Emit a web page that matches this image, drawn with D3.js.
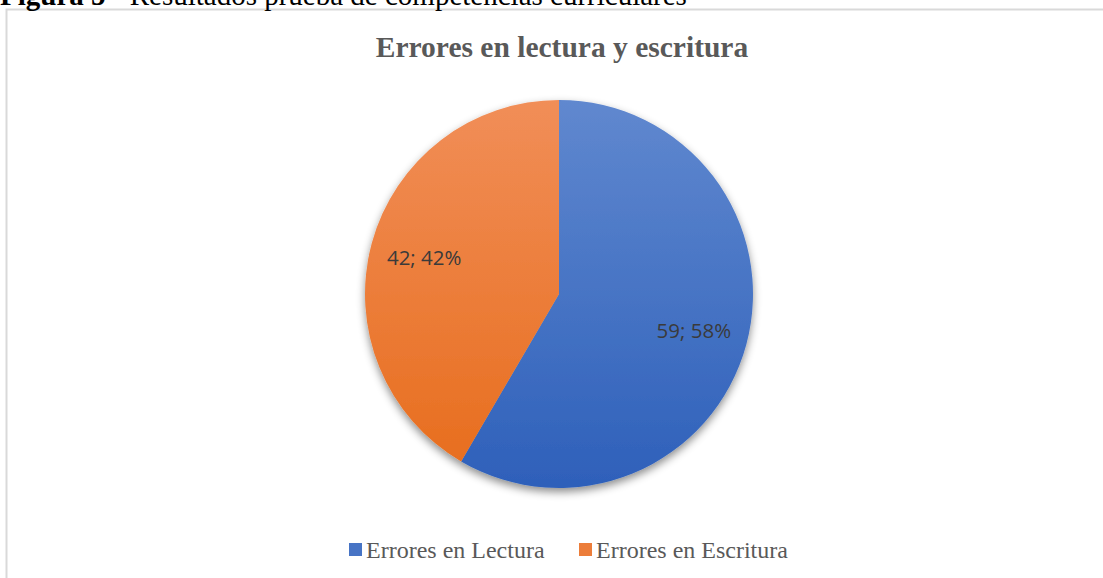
<!DOCTYPE html>
<html>
<head>
  <meta charset="utf-8">
  <style type="text/css">
    body { margin: 0; background: #fff; }
    svg { display: block; }
  </style>
  <script src="https://d3js.org/d3.v7.min.js"></script>
</head>
<body>
  <div id="chart"></div>
  <script type="text/javascript">
    // data
    var categories = ["Errores en Lectura", "Errores en Escritura"];
    var values = [59, 42];
    var colorsTop = ["#6088cf", "#f18e58"];
    var colorsBottom = ["#2e60ba", "#e76c1b"];

    var width = 1103, height = 578;
    var cx = 559, cy = 294, radius = 194;

    var svg = d3.select("#chart").append("svg")
        .attr("width", width)
        .attr("height", height);

    var defs = svg.append("defs");
    categories.forEach(function (c, i) {
      var g = defs.append("linearGradient")
          .attr("id", "grad" + i)
          .attr("gradientUnits", "userSpaceOnUse")
          .attr("x1", 0).attr("y1", -radius)
          .attr("x2", 0).attr("y2", radius);
      g.append("stop").attr("offset", "0%").attr("stop-color", colorsTop[i]);
      g.append("stop").attr("offset", "100%").attr("stop-color", colorsBottom[i]);
    });
    var shadow = defs.append("filter").attr("id", "shadow")
        .attr("x", "-10%").attr("y", "-10%").attr("width", "120%").attr("height", "120%");
    shadow.append("feDropShadow")
        .attr("dx", 0).attr("dy", 4).attr("stdDeviation", 4)
        .attr("flood-color", "#000").attr("flood-opacity", 0.45);

    // chart frame
    svg.append("rect")
        .attr("x", 6.5).attr("y", 9.5)
        .attr("width", width + 20).attr("height", height + 20)
        .attr("fill", "#fff")
        .attr("stroke", "#d9d9d9")
        .attr("stroke-width", 2);

    // caption above the chart (cut off at top, as in the source)
    var cap = svg.append("text")
        .attr("x", 0).attr("y", 5)
        .style("font-family", "'Liberation Serif', 'Times New Roman', serif")
        .style("font-size", "29px")
        .attr("fill", "#000");
    cap.append("tspan").style("font-weight", "bold").text("Figura 5");
    cap.append("tspan").text(" - Resultados prueba de competencias curriculares");

    // title
    svg.append("text")
        .attr("x", 562).attr("y", 57)
        .attr("text-anchor", "middle")
        .style("font-family", "'Liberation Serif', 'Times New Roman', serif")
        .style("font-size", "29.5px")
        .style("font-weight", "bold")
        .attr("fill", "#595959")
        .text("Errores en lectura y escritura");

    var data = categories.map(function (c, i) { return { name: c, value: values[i], idx: i }; });
    var total = d3.sum(values);
    var pie = d3.pie().sort(null).value(function (d) { return d.value; });
    var arc = d3.arc().innerRadius(0).outerRadius(radius);
    var labelArc = d3.arc().innerRadius(radius * 0.72).outerRadius(radius * 0.72);
    var pct = d3.format(".0%");

    var pg = svg.append("g").attr("transform", "translate(" + cx + "," + cy + ")");
    var slices = pg.append("g").attr("filter", "url(#shadow)");
    slices.selectAll("path")
      .data(pie(data))
      .enter().append("path")
        .attr("d", arc)
        .attr("fill", function (d) { return "url(#grad" + d.data.idx + ")"; });

    pg.selectAll("text.lbl")
      .data(pie(data))
      .enter().append("text")
        .attr("class", "lbl")
        .attr("transform", function (d) { return "translate(" + labelArc.centroid(d) + ")"; })
        .attr("text-anchor", "middle")
        .attr("dy", "0.35em")
        .style("font-family", "'Open Sans', 'Liberation Sans', sans-serif")
        .style("font-size", "20.5px")
        .attr("fill", "#3a3a3a")
        .text(function (d) { return d.data.value + "; " + pct(d.data.value / total); });

    // legend
    var legendX = [349, 579];
    var items = svg.append("g").selectAll("g")
      .data(data)
      .enter().append("g")
        .attr("transform", function (d, i) { return "translate(" + legendX[i] + ",543)"; });
    items.append("rect")
        .attr("width", 13).attr("height", 13)
        .attr("fill", function (d) { return d3.interpolateRgb(colorsTop[d.idx], colorsBottom[d.idx])(0.5); });
    items.append("text")
        .attr("x", 17).attr("y", 15)
        .style("font-family", "'Liberation Serif', 'Times New Roman', serif")
        .style("font-size", "24px")
        .attr("fill", "#595959")
        .text(function (d) { return d.name; });
  </script>
</body>
</html>
